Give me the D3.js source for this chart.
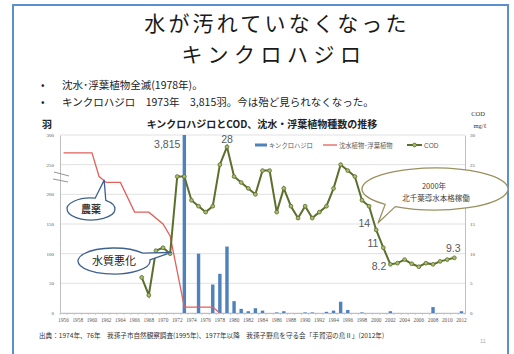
<!DOCTYPE html>
<html>
<head>
<meta charset="utf-8">
<script src="https://cdn.jsdelivr.net/npm/d3@7"></script>
<style>
  html, body { margin: 0; padding: 0; background: #fff; }
  svg { display: block; }
  .jp { font-family: "Noto Sans CJK JP", "Noto Sans", sans-serif; }
  .num { font-family: "Liberation Sans", Arial, sans-serif; }
  .tick-serif { font-family: "Liberation Serif", "DejaVu Serif", serif; }
</style>
</head>
<body>
<svg id="chart" width="514" height="354"></svg>
<script>
// ---- data ----
const years = d3.range(1956, 2013);

// キンクロハジロ counts (birds)
const birdYears  = [1973, 1975, 1977, 1978, 1979, 1980, 1981, 1982, 1983, 1984, 1986, 1987, 1990, 1991, 1993, 1994, 1995, 1996, 1998, 2002, 2008, 2012];
const birdCounts = [3815, 100, 48, 66, 112, 20, 7, 3, 8, 4, 1, 3, 1, 1, 2, 4, 19, 5, 1, 3, 10, 3];

// 沈水植物・浮葉植物 (left scale)
const plantYears  = [1956, 1957, 1958, 1959, 1960, 1961, 1962, 1963, 1964, 1966, 1967, 1968, 1970, 1971, 1973, 1974, 1975, 1976, 1977, 1978];
const plantValues = [270, 270, 270, 270, 270, 230, 220, 220, 220, 170, 170, 170, 150, 130, 10, 10, 10, 10, 10, 0];

// COD mg/L (right scale)
const codYears  = d3.range(1967, 2012);
const codValues = [6, 3, 10.5, 11, 10, 23, 23, 19, 18, 17, 18, 25, 28, 23, 22, 21, 20, 24, 24, 17,
                   21, 18, 16, 18, 16, 17, 18, 21, 25, 24, 23, 19, 18, 14, 11, 8.2, 8.4, 9, 8.3, 7.8,
                   8.4, 8.2, 8.7, 9, 9.3];

const leftTicks  = [0, 50, 100, 150, 200, 250, 300];
const rightTicks = [0, 5, 10, 15, 20, 25, 30];
const xTickYears = years.filter(y => (y - 1956) % 2 === 0);

// labelled values
const birdLabelYear = 1973;
const codLabelYears = [1979, 2000, 2001, 2002, 2011];

// ---- layout ----
const svg = d3.select("#chart");
const plot = { left: 60, right: 465, top: 135, bottom: 313 };

const x = d3.scaleBand().domain(years).range([plot.left, plot.right]);
const xc = yr => x(yr) + x.bandwidth() / 2;
const yL = d3.scaleLinear().domain([0, 300]).range([plot.bottom, plot.top]);
const yR = d3.scaleLinear().domain([0, 30]).range([plot.bottom, plot.top]);

// slide frame
svg.append("path")
  .attr("d", "M13,354 L13,5 L508,5 L508,354")
  .attr("fill", "none").attr("stroke", "#5b8fd0").attr("stroke-width", 2);

// headline
const head = svg.append("g").attr("class", "jp").attr("text-anchor", "middle")
  .attr("fill", "#1a1a1a").attr("font-size", 21);
head.append("text").attr("x", 277).attr("y", 31).attr("letter-spacing", 3.2).text("水が汚れていなくなった");
head.append("text").attr("x", 274).attr("y", 62).attr("letter-spacing", 5.5).text("キンクロハジロ");

// bullets
const bul = svg.append("g").attr("class", "jp").attr("font-size", 10.5).attr("fill", "#222");
bul.append("text").attr("x", 41).attr("y", 89).text("•");
bul.append("text").attr("x", 62).attr("y", 89).text("沈水･浮葉植物全滅(1978年)。");
bul.append("text").attr("x", 41).attr("y", 106).text("•");
bul.append("text").attr("x", 62).attr("y", 106).text("キンクロハジロ　1973年　3,815羽。今は殆ど見られなくなった。");

// chart title and axis units
svg.append("text").attr("class", "jp").attr("x", 262).attr("y", 128)
  .attr("text-anchor", "middle").attr("font-size", 10).attr("font-weight", "bold")
  .attr("fill", "#222").text("キンクロハジロとCOD、沈水・浮葉植物種数の推移");
svg.append("text").attr("class", "jp").attr("x", 47).attr("y", 128)
  .attr("text-anchor", "middle").attr("font-size", 10).attr("font-weight", "bold")
  .attr("fill", "#222").text("羽");
svg.append("text").attr("class", "tick-serif").attr("x", 478).attr("y", 116)
  .attr("text-anchor", "middle").attr("font-size", 6.5).attr("fill", "#333").text("COD");
svg.append("text").attr("class", "tick-serif").attr("x", 480).attr("y", 128)
  .attr("text-anchor", "middle").attr("font-size", 6.5).attr("fill", "#333").text("mg/ℓ");

// gridlines
svg.append("g").selectAll("line").data(leftTicks).join("line")
  .attr("x1", plot.left).attr("x2", plot.right)
  .attr("y1", d => yL(d)).attr("y2", d => yL(d))
  .attr("stroke", "#d9d9d9").attr("stroke-width", 0.8);

// left axis
const axL = svg.append("g").attr("transform", `translate(${plot.left},0)`)
  .call(d3.axisLeft(yL).tickValues(leftTicks).tickSize(0).tickPadding(6));
axL.select(".domain").attr("stroke", "#bfbfbf");
axL.selectAll("text").attr("class", "tick-serif").attr("font-size", 5).attr("fill", "#555");

// right axis
const axR = svg.append("g").attr("transform", `translate(${plot.right},0)`)
  .call(d3.axisRight(yR).tickValues(rightTicks).tickSize(0).tickPadding(5));
axR.select(".domain").attr("stroke", "#bfbfbf");
axR.selectAll("text").attr("class", "tick-serif").attr("font-size", 5).attr("fill", "#555");

// bottom axis
const axB = svg.append("g").attr("transform", `translate(0,${plot.bottom})`)
  .call(d3.axisBottom(x).tickValues(xTickYears).tickSize(0).tickPadding(5));
axB.select(".domain").attr("stroke", "#bfbfbf");
axB.selectAll("text").attr("class", "tick-serif").attr("font-size", 5.3).attr("fill", "#555");
svg.append("g").selectAll("line").data(years.concat([2013])).join("line")
  .attr("x1", d => d === 2013 ? plot.right : x(d)).attr("x2", d => d === 2013 ? plot.right : x(d))
  .attr("y1", plot.bottom).attr("y2", plot.bottom + 2)
  .attr("stroke", "#bfbfbf").attr("stroke-width", 0.7);

// axis break marks
svg.append("g").attr("stroke", "#888").attr("stroke-width", 0.9)
  .selectAll("line").data([[54, 172, 69, 176], [53, 179, 68, 182]]).join("line")
  .attr("x1", d => d[0]).attr("y1", d => d[1]).attr("x2", d => d[2]).attr("y2", d => d[3]);

// clip to the plot area
svg.append("clipPath").attr("id", "plotclip").append("rect")
  .attr("x", plot.left).attr("y", plot.top)
  .attr("width", plot.right - plot.left).attr("height", plot.bottom - plot.top);
const marks = svg.append("g").attr("clip-path", "url(#plotclip)");

// bird count bars
const barW = 3.4;
marks.append("g").selectAll("rect").data(birdYears.map((yr, i) => ({ yr, v: birdCounts[i] })))
  .join("rect")
  .attr("x", d => xc(d.yr) - barW / 2)
  .attr("y", d => yL(Math.min(d.v, 300)))
  .attr("width", barW)
  .attr("height", d => yL(0) - yL(Math.min(d.v, 300)))
  .attr("fill", "#4f81bd");

// plant line
const plantPts = plantYears.map((yr, i) => [xc(yr), yL(plantValues[i])]);
marks.append("path").attr("d", d3.line()(plantPts))
  .attr("fill", "none").attr("stroke", "#e0605c").attr("stroke-width", 1.3);

// COD line with markers
const codPts = codYears.map((yr, i) => [xc(yr), yR(codValues[i])]);
svg.append("path").attr("d", d3.line()(codPts))
  .attr("fill", "none").attr("stroke", "#5c6f2e").attr("stroke-width", 2);
svg.append("g").selectAll("circle").data(codPts).join("circle")
  .attr("cx", d => d[0]).attr("cy", d => d[1]).attr("r", 1.9)
  .attr("fill", "#a9bc6c").attr("stroke", "#5c6f2e").attr("stroke-width", 0.8);

// value labels
const lab = svg.append("g").attr("class", "num").attr("font-size", 10.5).attr("fill", "#595959");
const bi = birdYears.indexOf(birdLabelYear);
lab.append("text").attr("x", xc(birdLabelYear) - 4).attr("y", 148).attr("text-anchor", "end")
  .text(d3.format(",")(birdCounts[bi]));
const codOffsets = { 1979: [0, -4, "middle"], 2000: [-6, -3, "end"], 2001: [-5, -1, "end"],
                     2002: [-4, 6, "end"], 2011: [-1, -6, "middle"] };
codLabelYears.forEach(yr => {
  const v = codValues[codYears.indexOf(yr)];
  const o = codOffsets[yr];
  lab.append("text").attr("x", xc(yr) + o[0]).attr("y", yR(v) + o[1])
    .attr("text-anchor", o[2]).text(v);
});

// legend
const leg = svg.append("g").attr("class", "jp").attr("font-size", 6.3).attr("fill", "#595959");
leg.append("rect").attr("x", 255).attr("y", 143.5).attr("width", 12).attr("height", 3).attr("fill", "#4f81bd");
leg.append("text").attr("x", 269).attr("y", 147.5).text("キンクロハジロ");
leg.append("line").attr("x1", 323).attr("x2", 337).attr("y1", 145).attr("y2", 145)
  .attr("stroke", "#e0605c").attr("stroke-width", 1.3);
leg.append("text").attr("x", 339).attr("y", 147.5).text("沈水植物･浮葉植物");
leg.append("line").attr("x1", 407).attr("x2", 422).attr("y1", 145).attr("y2", 145)
  .attr("stroke", "#5c6f2e").attr("stroke-width", 2);
leg.append("circle").attr("cx", 414.5).attr("cy", 145).attr("r", 1.9)
  .attr("fill", "#a9bc6c").attr("stroke", "#5c6f2e").attr("stroke-width", 0.8);
leg.append("text").attr("class", "num").attr("x", 424).attr("y", 147.5).attr("font-size", 6.5).text("COD");

// oval callouts: ellipse outline merged with a pointer wedge
function callout(cx, cy, rx, ry, a1, a2, tip, stroke) {
  const p = a => [cx + rx * Math.cos(a * Math.PI / 180), cy + ry * Math.sin(a * Math.PI / 180)];
  const A = p(a1), B = p(a2);
  const d = `M${A[0]},${A[1]} A${rx},${ry} 0 1 0 ${B[0]},${B[1]} L${tip[0]},${tip[1]} Z`;
  svg.append("path").attr("d", d).attr("fill", "#fff")
    .attr("stroke", stroke).attr("stroke-width", 1.3).attr("stroke-linejoin", "round");
}
callout(91, 209, 24, 11, -80, -52, [xc(1962) - 2, yL(224)], "#3f6190");
callout(114, 261, 36, 13, -37, -5, [xc(1971) + 1, yR(10.2)], "#3f6190");
callout(435, 189, 73, 21, 123, 133, [xc(2000) + 2, yR(15.2)], "#9a9060");

const ct = svg.append("g").attr("class", "jp").attr("text-anchor", "middle");
ct.append("text").attr("x", 91).attr("y", 213).attr("font-size", 10).attr("font-weight", "bold")
  .attr("fill", "#333").text("農薬");
ct.append("text").attr("x", 114).attr("y", 265).attr("font-size", 11)
  .attr("fill", "#222").text("水質悪化");
ct.append("text").attr("x", 434).attr("y", 189).attr("font-size", 7.5)
  .attr("fill", "#444").text("2000年");
ct.append("text").attr("x", 436).attr("y", 201).attr("font-size", 7.5)
  .attr("fill", "#444").text("北千葉導水本格稼働");

// source note and page number
svg.append("text").attr("class", "jp").attr("x", 39).attr("y", 338).attr("font-size", 6.6)
  .attr("fill", "#333")
  .text("出典：1974年、76年　我孫子市自然観察調査(1995年)、1977年以降　我孫子野鳥を守る会「手賀沼の鳥Ⅱ」(2012年)");
svg.append("text").attr("class", "num").attr("x", 480).attr("y", 343).attr("font-size", 5.5)
  .attr("fill", "#aaa").text("11");
</script>
</body>
</html>
